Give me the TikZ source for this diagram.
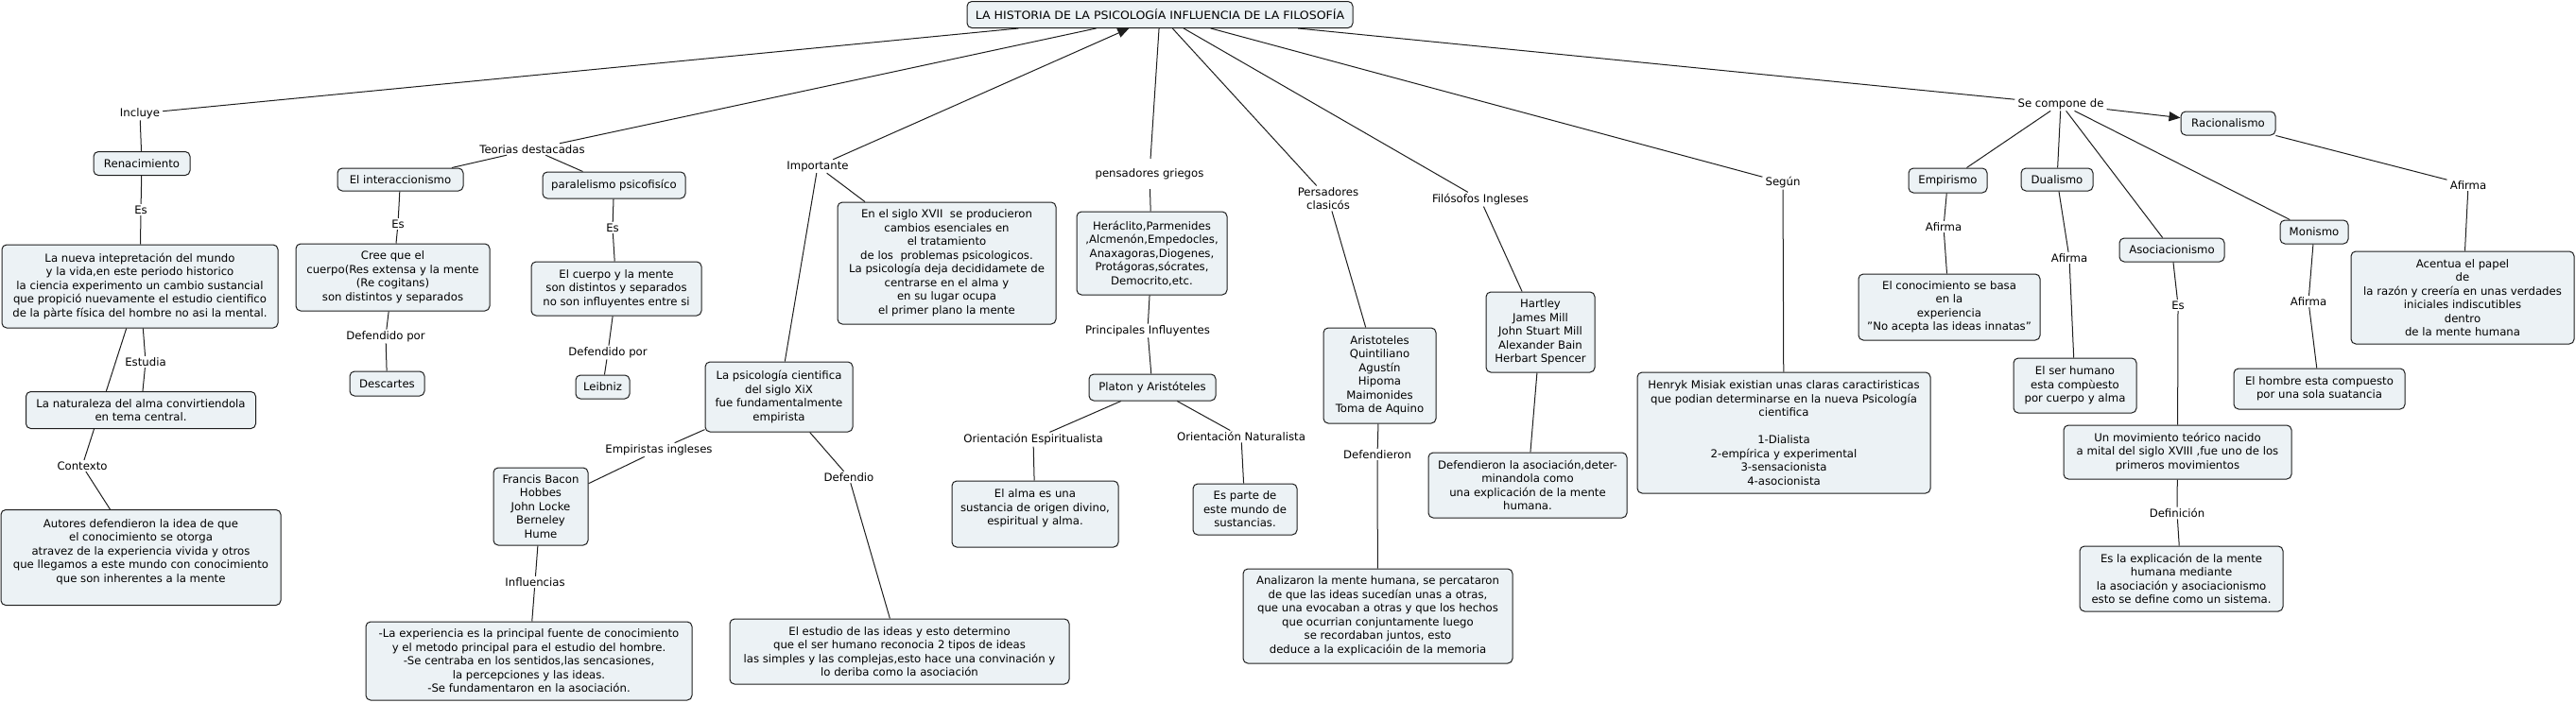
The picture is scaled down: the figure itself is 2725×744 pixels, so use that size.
\documentclass[tikz,border=0pt]{standalone}
\usepackage{fontspec}
\setmainfont{DejaVu Sans}
\newfontfamily\widefont[FakeStretch=1.075]{DejaVu Sans}
\usetikzlibrary{arrows.meta,backgrounds}
\definecolor{boxfill}{RGB}{236,242,245}
\definecolor{edge}{RGB}{30,30,30}
\begin{document}
\begin{tikzpicture}[x=1pt,y=-1pt,
  txt/.style={font=\fontsize{11.7}{14.5}\selectfont},
  box/.style={txt, draw=edge, line width=1pt, fill=boxfill, rounded corners=5pt, align=center, inner sep=2pt},
  lbl/.style={txt, align=center, inner xsep=3pt, inner ysep=1.5pt},
  conn/.style={draw=edge, line width=1pt},
  tip/.style={-{Triangle[length=12pt,width=10pt]}}]
\useasboundingbox (0,0) rectangle (2725,744);

% ---------- concepts ----------
\node[box, minimum width=408pt, minimum height=28pt, inner xsep=1pt] (root) at (1227,15.5) {\widefont LA HISTORIA DE LA PSICOLOGÍA INFLUENCIA DE LA FILOSOFÍA};

\node[box, minimum width=102pt, minimum height=25pt] (renac) at (150,173) {Renacimiento};
\node[box, minimum width=292pt, minimum height=88pt] (nueva) at (148,303) {La nueva intepretación del mundo\\ y la vida,en este periodo historico\\ la ciencia experimento un cambio sustancial\\ que propició nuevamente el estudio cientifico\\ de la pàrte física del hombre no asi la mental.};
\node[box, minimum width=243pt, minimum height=39pt] (natur) at (149,434) {La naturaleza del alma convirtiendola\\ en tema central.};
\node[box, minimum width=296pt, minimum height=101pt] (autores) at (149,590) {Autores defendieron la idea de que\\ el conocimiento se otorga\\ atravez de la experiencia vivida y otros\\ que llegamos a este mundo con conocimiento\\ que son inherentes a la mente\\ \mbox{}};

\node[box, minimum width=133pt, minimum height=24pt] (interac) at (423.5,190) {El interaccionismo};
\node[box, minimum width=205pt, minimum height=71pt] (cree) at (415.5,293.5) {Cree que el\\ cuerpo(Res extensa y la mente\\ (Re cogitans)\\ son distintos y separados};
\node[box, minimum width=79pt, minimum height=26pt] (descartes) at (409.5,406) {Descartes};
\node[box, minimum width=151pt, minimum height=28pt] (paralel) at (649.5,196) {paralelismo psicofisíco};
\node[box, minimum width=180pt, minimum height=57pt] (cuerpo) at (652,305.5) {El cuerpo y la mente\\ son distintos y separados\\ no son influyentes entre si};
\node[box, minimum width=57pt, minimum height=25pt] (leibniz) at (637.5,409.5) {Leibniz};

\node[box, minimum width=231pt, minimum height=129pt] (siglo) at (1001.5,278.5) {En el siglo XVII\ \ se producieron\\ cambios esenciales en\\ el tratamiento\\ de los\ \ problemas psicologicos.\\ La psicología deja decididamete de\\ centrarse en el alma y\\ en su lugar ocupa\\ el primer plano la mente};
\node[box, minimum width=156pt, minimum height=74pt] (psicient) at (824,420) {La psicología cientifica\\ del siglo XiX\\ fue fundamentalmente\\ empirista};
\node[box, minimum width=100pt, minimum height=82pt] (bacon) at (572,536) {Francis Bacon\\ Hobbes\\ John Locke\\ Berneley\\ Hume};
\node[box, minimum width=345pt, minimum height=83pt] (experiencia) at (559.5,699.5) {-La experiencia es la principal fuente de conocimiento\\ y el metodo principal para el estudio del hombre.\\ -Se centraba en los sentidos,las sencasiones,\\ la percepciones y las ideas.\\ -Se fundamentaron en la asociación.};
\node[box, minimum width=359pt, minimum height=69pt] (estudio) at (951.5,689.5) {El estudio de las ideas y esto determino\\ que el ser humano reconocia 2 tipos de ideas\\ las simples y las complejas,esto hace una convinación y\\ lo deriba como la asociación};

\node[box, minimum width=159pt, minimum height=88pt] (heraclito) at (1218.5,268) {Heráclito,Parmenides\\ ,Alcmenón,Empedocles,\\ Anaxagoras,Diogenes,\\ Protágoras,sócrates,\\ Democrito,etc.};
\node[box, minimum width=134pt, minimum height=28pt] (platon) at (1219,410) {Platon y Aristóteles};
\node[box, minimum width=176pt, minimum height=70pt] (alma) at (1095,544) {El alma es una\\ sustancia de origen divino,\\ espiritual y alma.\\ \mbox{}};
\node[box, minimum width=110pt, minimum height=54pt] (esparte) at (1317,539) {Es parte de\\ este mundo de\\ sustancias.};

\node[box, minimum width=119pt, minimum height=101pt] (aristo) at (1459.5,397.5) {Aristoteles\\ Quintiliano\\ Agustín\\ Hipoma\\ Maimonides\\ Toma de Aquino};
\node[box, minimum width=285pt, minimum height=100pt] (analiz) at (1457.5,652) {Analizaron la mente humana, se percataron\\ de que las ideas sucedían unas a otras,\\ que una evocaban a otras y que los hechos\\ que ocurrian conjuntamente luego\\ se recordaban juntos, esto\\ deduce a la explicacióin de la memoria};
\node[box, minimum width=115pt, minimum height=85pt] (hartley) at (1629.5,351.5) {Hartley\\ James Mill\\ John Stuart Mill\\ Alexander Bain\\ Herbart Spencer};
\node[box, minimum width=210pt, minimum height=69pt] (defasoc) at (1616,513.5) {Defendieron la asociación,deter-\\ minandola como\\ una explicación de la mente\\ humana.};
\node[box, minimum width=310pt, minimum height=128pt] (henryk) at (1887,458) {Henryk Misiak existian unas claras caractiristicas\\ que podian determinarse en la nueva Psicología\\ cientifica\\ \mbox{}\\ 1-Dialista\\ 2-empírica y experimental\\ 3-sensacionista\\ 4-asocionista};

\node[box, minimum width=83pt, minimum height=26pt] (empir) at (2060.5,191) {Empirismo};
\node[box, minimum width=192pt, minimum height=70pt] (conoc) at (2062,325) {El conocimiento se basa\\ en la\\ experiencia\\ "No acepta las ideas innatas"};
\node[box, minimum width=76pt, minimum height=24pt] (dual) at (2176,190) {Dualismo};
\node[box, minimum width=130pt, minimum height=58pt] (serhum) at (2195,408) {El ser humano\\ esta compùesto\\ por cuerpo y alma};
\node[box, minimum width=111pt, minimum height=25pt] (asoc) at (2297.5,264.5) {Asociacionismo};
\node[box, minimum width=241pt, minimum height=57pt] (movim) at (2303.5,478.5) {Un movimiento teórico nacido\\ a mital del siglo XVIII ,fue uno de los\\ primeros movimientos};
\node[box, minimum width=215pt, minimum height=69pt] (explic) at (2307.5,612.5) {Es la explicación de la mente\\ humana mediante\\ la asociación y asociacionismo\\ esto se define como un sistema.};
\node[box, minimum width=72pt, minimum height=25pt] (monis) at (2448,245.5) {Monismo};
\node[box, minimum width=181pt, minimum height=43pt] (hombre) at (2453.5,411.5) {El hombre esta compuesto\\ por una sola suatancia};
\node[box, minimum width=100pt, minimum height=25pt] (racio) at (2357,130.5) {Racionalismo};
\node[box, minimum width=236pt, minimum height=98pt] (acentua) at (2605,315) {Acentua el papel\\ de\\ la razón y creería en unas verdades\\ iniciales indiscutibles\\ dentro\\ de la mente humana};

% ---------- linking phrases ----------
\node[lbl] (incluye) at (148,120) {Incluye};
\node[lbl] (es1) at (149,222) {Es};
\node[lbl] (estudia) at (154,383) {Estudia};
\node[lbl] (contexto) at (87,493) {Contexto};
\node[lbl] (teorias) at (563,158) {Teorias destacadas};
\node[lbl] (es2) at (421,237) {Es};
\node[lbl] (defpor1) at (408,356) {Defendido por};
\node[lbl] (es3) at (648,241) {Es};
\node[lbl] (defpor2) at (643,373) {Defendido por};
\node[lbl] (importante) at (865,176) {Importante};
\node[lbl] (empiristas) at (697,476) {Empiristas ingleses};
\node[lbl] (influencias) at (566,616) {Influencias};
\node[lbl] (defendio) at (898,505) {Defendio};
\node[lbl, minimum height=32pt] (pensadores) at (1216,184) {pensadores griegos};
\node[lbl] (principales) at (1214,350) {Principales Influyentes};
\node[lbl] (espiritual) at (1093,465) {Orientación Espiritualista};
\node[lbl] (naturalista) at (1313,462) {Orientación Naturalista};
\node[lbl] (persadores) at (1405,210) {Persadores\\ clasicós};
\node[lbl] (defendieron) at (1457,481) {Defendieron};
\node[lbl] (filosofos) at (1566,211) {Filósofos Ingleses};
\node[lbl] (segun) at (1886,193) {Según};
\node[lbl] (secompone) at (2180,110) {Se compone de};
\node[lbl] (afirma1) at (2056,240) {Afirma};
\node[lbl] (afirma2) at (2189,273) {Afirma};
\node[lbl] (es4) at (2304,323) {Es};
\node[lbl] (definicion) at (2303,543) {Definición};
\node[lbl] (afirma3) at (2442,319) {Afirma};
\node[lbl] (afirma4) at (2611,196) {Afirma};

% ---------- connectors ----------
\begin{pgfonlayer}{background}
\draw[conn] (root) -- (incluye);
\draw[conn] (incluye) -- (renac);
\draw[conn] (renac) -- (es1);
\draw[conn] (es1) -- (nueva);
\draw[conn] (nueva) -- (estudia);
\draw[conn] (estudia) -- (natur);
\draw[conn] (nueva) -- (contexto);
\draw[conn] (contexto) -- (autores);

\draw[conn] (root) -- (teorias);
\draw[conn] (teorias) -- (interac);
\draw[conn] (teorias) -- (paralel);
\draw[conn] (interac) -- (es2);
\draw[conn] (es2) -- (cree);
\draw[conn] (cree) -- (defpor1);
\draw[conn] (defpor1) -- (descartes);
\draw[conn] (paralel) -- (es3);
\draw[conn] (es3) -- (cuerpo);
\draw[conn] (cuerpo) -- (defpor2);
\draw[conn] (defpor2) -- (leibniz);

\draw[conn, tip] (importante) -- (root);
\draw[conn] (importante) -- (siglo);
\draw[conn] (importante) -- (psicient);
\draw[conn] (psicient) -- (empiristas);
\draw[conn] (empiristas) -- (bacon);
\draw[conn] (bacon) -- (influencias);
\draw[conn] (influencias) -- (experiencia);
\draw[conn] (psicient) -- (defendio);
\draw[conn] (defendio) -- (estudio);

\draw[conn] (root) -- (pensadores);
\draw[conn] (pensadores) -- (heraclito);
\draw[conn] (heraclito) -- (principales);
\draw[conn] (principales) -- (platon);
\draw[conn] (platon) -- (espiritual);
\draw[conn] (espiritual) -- (alma);
\draw[conn] (platon) -- (naturalista);
\draw[conn] (naturalista) -- (esparte);

\draw[conn] (root) -- (persadores);
\draw[conn] (persadores) -- (aristo);
\draw[conn] (aristo) -- (defendieron);
\draw[conn] (defendieron) -- (analiz);
\draw[conn] (root) -- (filosofos);
\draw[conn] (filosofos) -- (hartley);
\draw[conn] (hartley) -- (defasoc);
\draw[conn] (root) -- (segun);
\draw[conn] (segun) -- (henryk);

\draw[conn] (root) -- (secompone);
\draw[conn, tip] (secompone) -- (racio);
\draw[conn] (secompone) -- (empir);
\draw[conn] (secompone) -- (dual);
\draw[conn] (secompone) -- (asoc);
\draw[conn] (secompone) -- (monis);
\draw[conn] (empir) -- (afirma1);
\draw[conn] (afirma1) -- (conoc);
\draw[conn] (dual) -- (afirma2);
\draw[conn] (afirma2) -- (serhum);
\draw[conn] (asoc) -- (es4);
\draw[conn] (es4) -- (movim);
\draw[conn] (movim) -- (definicion);
\draw[conn] (definicion) -- (explic);
\draw[conn] (monis) -- (afirma3);
\draw[conn] (afirma3) -- (hombre);
\draw[conn] (racio) -- (afirma4);
\draw[conn] (afirma4) -- (acentua);
\end{pgfonlayer}
\end{tikzpicture}
\end{document}
